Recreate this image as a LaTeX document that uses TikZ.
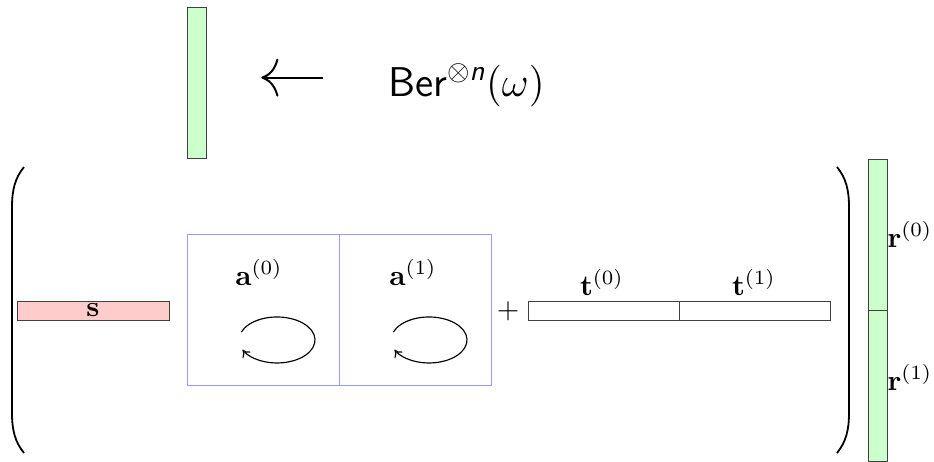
\documentclass[tikz,border=0pt]{standalone}
\usepackage{amsmath,amssymb,bm}
\usepackage{tikz}
\usetikzlibrary{arrows.meta,positioning,calc}
\definecolor{vgreen}{HTML}{CCFFCC}
\definecolor{vpink}{HTML}{FFCCCC}
\definecolor{bluebox}{HTML}{9999FF}
\definecolor{edge}{HTML}{404040}
\newcommand{\blowup}[1]{\scalebox{2.89}{#1}}
\tikzset{
  >={Computer Modern Rightarrow[length=7pt,width=10pt]},
  vec/.style={draw=edge,line width=0.8pt,inner sep=0pt},
  hvec/.style={vec,minimum width=151pt,minimum height=19pt},
  vvec/.style={vec,minimum width=19pt,minimum height=151pt},
  sqbox/.style={draw=bluebox,line width=1pt,inner sep=0pt,minimum width=152pt,minimum height=151pt},
  lab/.style={inner sep=0pt,anchor=base},
  loopy/.style={->,line width=1.15pt},
  bigarr/.style={-{Computer Modern Rightarrow[length=17pt,width=38pt]},line width=2pt},
  paren/.style={line width=1.8pt},
}
\begin{document}
\begin{tikzpicture}[x=1pt,y=-1pt]
\useasboundingbox (0,0) rectangle (934,461);
% sampled vector and its law
\node[vvec,fill=vgreen] (rnd) at (196.5,82.5) {};
\node[inner sep=0pt,anchor=base west] (ber) at (388,96)
  {\blowup{\Large\textsf{Ber}$^{\otimes\textsf{\itshape n}}(\omega)$}};
\draw[bigarr,shorten <=65pt,shorten >=55pt] ([yshift=7.6pt]ber.west) -- ([yshift=7.6pt]ber.west -| rnd.east);
% row vector s
\node[hvec,fill=vpink,minimum width=152pt] (s) at (93,310.5) {\blowup{$\mathbf{s}$}};
% blocks a
\node[sqbox] (a0) at (263.5,310) {};
\node[sqbox] (a1) at (415.5,310) {};
\node[lab] at (259,285) {\blowup{$\mathbf{a}^{(0)}$}};
\node[lab] at (413,285) {\blowup{$\mathbf{a}^{(1)}$}};
\foreach \b in {a0,a1}
  \draw[loopy] ([shift={(-35.7pt,7.9pt)}]$(\b.center)+(13.5,30)$) arc[start angle=-160,end angle=155,x radius=38,y radius=23];
% offsets t
\node[inner sep=0pt] (plus) at (508,311) {\blowup{$+$}};
\node[hvec,fill=white] (t0) at (603.5,310.5) {};
\node[hvec,fill=white] (t1) at (755,310.5) {};
\node[lab] at (602,295) {\blowup{$\mathbf{t}^{(0)}$}};
\node[lab] at (754,295) {\blowup{$\mathbf{t}^{(1)}$}};
% brackets
\draw[paren] (24,167) .. controls (15,178) and (12,190) .. (12,207) -- (12,413) .. controls (12,430) and (15,442) .. (24,453);
\draw[paren] (837,167) .. controls (846,178) and (849,190) .. (849,207) -- (849,413) .. controls (849,430) and (846,442) .. (837,453);
% column vector r
\node[vvec,fill=vgreen] (r0) at (877.5,234.5) {};
\node[vvec,fill=vgreen] (r1) at (877.5,385.5) {};
\node[lab,anchor=base west] at (887.5,247) {\blowup{$\mathbf{r}^{(0)}$}};
\node[lab,anchor=base west] at (887.5,390) {\blowup{$\mathbf{r}^{(1)}$}};
\end{tikzpicture}
\end{document}
